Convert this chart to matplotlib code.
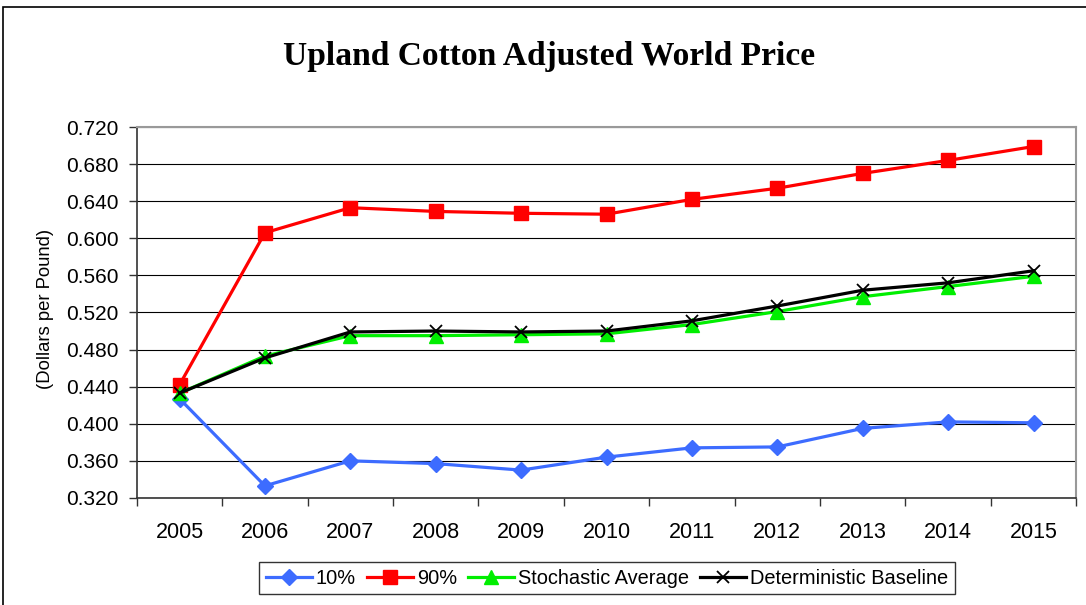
"""Upland cotton adjusted world price: stochastic bands vs deterministic baseline."""

import numpy as np
import matplotlib.pyplot as plt
from matplotlib.patches import Rectangle
from matplotlib.ticker import FixedLocator, NullFormatter

years = ["2005", "2006", "2007", "2008", "2009", "2010",
         "2011", "2012", "2013", "2014", "2015"]
p10 = [0.427, 0.333, 0.360, 0.357, 0.350, 0.364,
       0.374, 0.375, 0.395, 0.402, 0.401]
p90 = [0.442, 0.606, 0.633, 0.629, 0.627, 0.626,
       0.642, 0.654, 0.670, 0.684, 0.699]
stoch_avg = [0.433, 0.473, 0.495, 0.495, 0.496, 0.497,
             0.507, 0.521, 0.537, 0.548, 0.559]
det_base = [0.433, 0.471, 0.499, 0.500, 0.499, 0.500,
            0.511, 0.527, 0.544, 0.552, 0.565]
y_ticks = [0.32 + 0.04 * i for i in range(11)]

plt.rcParams["font.family"] = ["Liberation Sans", "DejaVu Sans"]

fig = plt.figure(figsize=(10.86, 6.05), dpi=100)
ax = fig.add_axes([0.126, 0.177, 0.865, 0.613])

x = np.arange(len(years))
ax.plot(x, p10, color="#3d6cff", lw=2.3, marker="D", ms=8, label="10%")
ax.plot(x, p90, color="#ff0000", lw=2.3, marker="s", ms=9.5, label="90%")
ax.plot(x, stoch_avg, color="#00ee00", lw=2.3, marker="^", ms=9.5,
        label="Stochastic Average")
ax.plot(x, det_base, color="black", lw=2.3, marker="x", ms=9, mew=1.3,
        label="Deterministic Baseline")

ax.set_xlim(-0.5, len(years) - 0.5)
ax.set_ylim(0.32, 0.72)
ax.set_yticks(y_ticks)
ax.set_yticklabels([f"{v:.3f}" for v in y_ticks], fontsize=15)
ax.set_xticks(x)
ax.set_xticklabels(years, fontsize=15.5)
ax.tick_params(axis="x", which="major", length=0, pad=17)
ax.xaxis.set_minor_locator(FixedLocator(np.arange(-0.5, len(years), 1.0)))
ax.xaxis.set_minor_formatter(NullFormatter())
ax.tick_params(axis="x", which="minor", length=6, width=1, color="#333333")
ax.tick_params(axis="y", length=6, pad=7, width=1, color="#333333")
ax.grid(True, axis="y", color="black", lw=0.8)
ax.set_axisbelow(True)
for side in ("top", "right"):
    ax.spines[side].set_color("#999999")
    ax.spines[side].set_linewidth(1.5)
for side in ("left", "bottom"):
    ax.spines[side].set_color("#333333")
    ax.spines[side].set_linewidth(1.2)

fig.text(46 / 1086, 1 - 309 / 605, "(Dollars per Pound)", fontsize=13.3,
         rotation=90, ha="center", va="center")
fig.text(0.506, 1 - 65 / 605, "Upland Cotton Adjusted World Price",
         family=["Liberation Serif", "DejaVu Serif"], weight="bold",
         fontsize=24.1, ha="center", va="baseline")

leg = fig.legend(loc="center", bbox_to_anchor=(0.559, 0.044), ncol=4,
                 fontsize=14.4, frameon=True, fancybox=False, edgecolor="black",
                 handlelength=2.3, handletextpad=0.2, columnspacing=0.55,
                 borderpad=0.32, borderaxespad=0)
leg.get_frame().set_linewidth(1.0)

# chart-area border
fig.patches.append(Rectangle((3 / 1086, -0.1), 1.2, 1.1 - 7 / 605,
                             transform=fig.transFigure, fill=False,
                             edgecolor="black", lw=1.2))

fig.savefig("out.png", dpi=100)
